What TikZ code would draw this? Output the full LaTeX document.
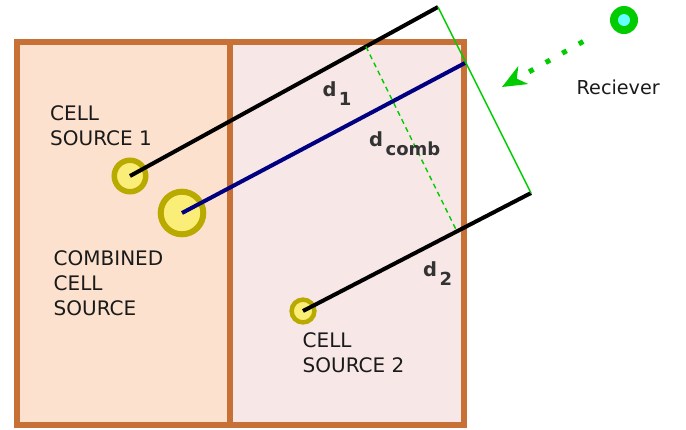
\documentclass[tikz,border=0pt]{standalone}
\usepackage{fontspec}
\setmainfont{DejaVu Sans}
\usetikzlibrary{arrows.meta,calc}

\definecolor{panelA}{RGB}{252,226,206}
\definecolor{panelB}{RGB}{247,231,231}
\definecolor{wallc}{RGB}{200,113,55}
\definecolor{srcfill}{RGB}{250,238,120}
\definecolor{srcedge}{RGB}{185,170,0}
\definecolor{rxgreen}{RGB}{0,204,0}
\definecolor{rxcyan}{RGB}{102,255,255}
\definecolor{navyline}{RGB}{0,0,128}
\definecolor{txt}{RGB}{26,26,26}
\definecolor{dtxt}{RGB}{51,51,51}

\tikzset{
  srcnode/.style={circle, draw=srcedge, fill=srcfill, inner sep=0pt},
  lbl/.style={font=\fontsize{20}{25}\selectfont, text=txt, inner sep=0pt, align=left},
  dlbl/.style={font=\fontsize{18}{22}\selectfont\bfseries, text=dtxt, inner sep=0pt, anchor=base west},
  wall/.style={draw=wallc, line width=6pt},
  ray/.style={line width=4pt},
}
% distance symbol: a larger d with a lowered subscript
\newcommand{\dsub}[1]{{\fontsize{19.5}{22}\selectfont d}\kern2.5pt\raisebox{-8.3pt}{#1}}

\begin{document}
\begin{tikzpicture}[x=1pt,y=-1pt]
\useasboundingbox (0,0) rectangle (686,429);

% cell panels
\fill[panelA] (17,42) rectangle (230,425);
\fill[panelB] (230,42) rectangle (464,425);
\draw[wall] (17,42) rectangle (464,425);
\draw[wall] (230,42) -- (230,425);

% sources
\node[srcnode, line width=5.5pt, minimum size=31.5pt] (s1) at (130,176) {};
\node[srcnode, line width=6pt, minimum size=42.6pt] (sc) at (182,213) {};
\node[srcnode, line width=4.5pt, minimum size=22.8pt] (s2) at (303,311) {};

% wavefront ends
\coordinate (a1) at (438,7);
\coordinate (ac) at (465,63);
\coordinate (a2) at (531,193);

% propagation rays
\draw[ray, black] (s1.center) -- (a1);
\draw[ray, navyline] (sc.center) -- (ac);
\draw[ray, black] (s2.center) -- (a2);

% wavefront and combined-source front
\draw[rxgreen, line width=1.4pt] (a1) -- (a2);
\coordinate (f1) at ($(s1.center)!0.766!(a1)$);
\coordinate (f2) at ($(s2.center)!0.675!(a2)$);
\draw[rxgreen, line width=1.4pt, dash pattern=on 5pt off 4pt] (f1) -- (f2);

% receiver
\node[circle, fill=rxgreen, minimum size=28pt, inner sep=0pt] (rx) at (624,20) {};
\node[circle, fill=rxcyan, minimum size=12pt, inner sep=0pt] at (rx.center) {};
\coordinate (rxs) at (583.2,41.5);
\coordinate (rxt) at (502,87);
\draw[rxgreen, line width=5pt, dash pattern=on 5pt off 14pt,
  -{Stealth[length=24pt,width=20pt,inset=7pt]}] (rxs) -- (rxt);

% labels
\node[lbl, anchor=north west] (l1) at (50,105.4) {CELL\\SOURCE 1};
\node[lbl, anchor=north west] (lc) at (53.5,250.4) {COMBINED\\CELL\\SOURCE};
\node[lbl, anchor=north west] (l2) at (302.5,332.1) {CELL\\SOURCE 2};
\node[lbl, anchor=base west, font=\fontsize{19.2}{25}\selectfont] (lr) at (576.5,94.3) {Reciever};

\node[dlbl] (d1) at (322.3,96.7) {\dsub{1}};
\node[dlbl] (dc) at (369,146.7) {\dsub{comb}};
\node[dlbl] (d2) at (423,276.7) {\dsub{2}};
\end{tikzpicture}
\end{document}
